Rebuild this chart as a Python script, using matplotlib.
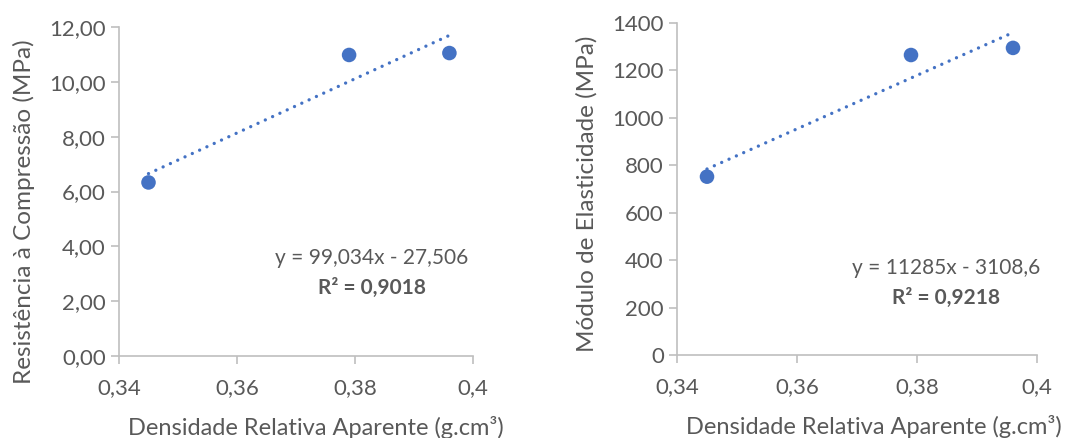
import numpy as np
import matplotlib.pyplot as plt

plt.rcParams['font.family'] = ['Lato', 'DejaVu Sans']

densidade = [0.345, 0.379, 0.396]
resistencia = [6.33, 10.98, 11.05]
modulo = [752, 1265, 1295]

eq1 = "y = 99,034x - 27,506"
r2_1 = "R² = 0,9018"
eq2 = "y = 11285x - 3108,6"
r2_2 = "R² = 0,9218"

blue = '#4472C4'
grey = '#595959'
axc = '#BFBFBF'

fig = plt.figure(figsize=(10.88, 4.38), dpi=100)
ax1 = fig.add_axes([119/1088, 82/438, 354/1088, 329/438])
ax2 = fig.add_axes([677/1088, 83/438, 360/1088, 332/438])


def fmt_comma(v, dec):
    s = f"{v:.{dec}f}" if dec is not None else f"{v:g}"
    return s.replace('.', ',')


def style(ax, yticks, ydec):
    for s in ['top', 'right']:
        ax.spines[s].set_visible(False)
    for s in ['left', 'bottom']:
        ax.spines[s].set_color(axc)
        ax.spines[s].set_linewidth(1.2)
    ax.set_xlim(0.34, 0.4)
    ax.set_xticks([0.34, 0.36, 0.38, 0.4])
    ax.set_xticklabels([fmt_comma(t, None) for t in [0.34, 0.36, 0.38, 0.4]])
    ax.set_ylim(yticks[0], yticks[-1])
    ax.set_yticks(yticks)
    ax.set_yticklabels([fmt_comma(t, ydec) if ydec else str(int(t)) for t in yticks])
    ax.tick_params(colors=axc, labelcolor=grey, labelsize=16, length=6, width=1.2)
    ax.tick_params(axis='x', pad=10)
    ax.set_xlabel("Densidade Relativa Aparente (g.cm³)", fontsize=17, color=grey)


def trend(ax, x, y):
    m, b = np.polyfit(x, y, 1)
    xs = np.array([min(x), max(x)])
    ax.plot(xs, m * xs + b, color=blue, lw=2.4, linestyle=(0, (0.01, 2.4)),
            dash_capstyle='round', zorder=2)
    ax.scatter(x, y, s=110, color=blue, zorder=3, edgecolors='none')


trend(ax1, densidade, resistencia)
style(ax1, np.arange(0, 13, 2), 2)
ax1.set_ylabel("Resistência à Compressão (MPa)", fontsize=17.5, color=grey)
ax1.yaxis.set_label_coords(-0.237, 0.44)
ax1.xaxis.set_label_coords(0.556, -0.182)
ax1.text(0.3829, 3.35, eq1, fontsize=15, color=grey, ha='center')
ax1.text(0.3829, 2.25, r2_1, fontsize=15, color=grey, ha='center', fontweight='bold')

trend(ax2, densidade, modulo)
style(ax2, np.arange(0, 1401, 200), None)
ax2.set_ylabel("Módulo de Elasticidade (MPa)", fontsize=17.5, color=grey)
ax2.yaxis.set_label_coords(-0.22, 0.485)
ax2.xaxis.set_label_coords(0.547, -0.182)
ax2.text(0.3848, 342, eq2, fontsize=15, color=grey, ha='center')
ax2.text(0.3848, 215, r2_2, fontsize=15, color=grey, ha='center', fontweight='bold')

fig.savefig('out.png', dpi=100)
